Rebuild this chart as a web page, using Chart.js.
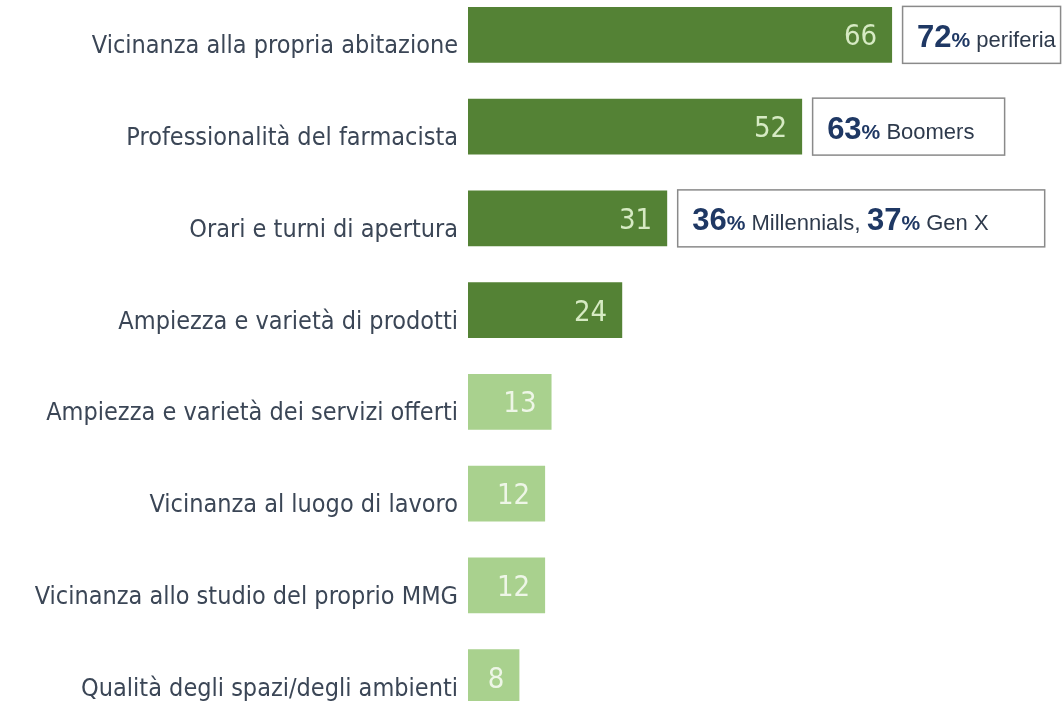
<!DOCTYPE html>
<html>
<head>
<meta charset="utf-8">
<script src="https://cdn.jsdelivr.net/npm/chart.js@4/dist/chart.umd.min.js"></script>
<style>
  html, body { margin: 0; padding: 0; background: #ffffff; overflow: hidden; width: 1063px; height: 701px; }
  #wrap { position: absolute; left: 0; top: -11px; width: 1063px; height: 734px; }
</style>
</head>
<body>
<div id="wrap"><canvas id="c"></canvas></div>
<script>
// ---- data ----
const categories = [
  'Vicinanza alla propria abitazione',
  'Professionalità del farmacista',
  'Orari e turni di apertura',
  'Ampiezza e varietà di prodotti',
  'Ampiezza e varietà dei servizi offerti',
  'Vicinanza al luogo di lavoro',
  'Vicinanza allo studio del proprio MMG',
  'Qualità degli spazi/degli ambienti'
];
const values = [66, 52, 31, 24, 13, 12, 12, 8];
const topGroupSize = 4;               // first four bars highlighted (dark)
const noteRows = [0, 1, 2];
const notePcts = [[72], [63], [36, 37]];
const noteGroups = [['periferia'], ['Boomers'], ['Millennials', 'Gen X']];
const noteBoxWidths = [159, 193, 368];

// ---- styles ----
const NARROW = '"Liberation Sans Narrow", "Arial Narrow", "DejaVu Sans Condensed", "Liberation Sans", sans-serif';
const SANS = '"Liberation Sans", Arial, sans-serif';
const DARK = '#548235';
const LIGHT = '#a9d18e';
const barColors = values.map((v, i) => i < topGroupSize ? DARK : LIGHT);
const valueColors = values.map((v, i) => i < topGroupSize ? '#d6eac3' : '#eef6e7');

const valueLabels = {
  id: 'valueLabels',
  afterDatasetsDraw(chart) {
    const ctx = chart.ctx;
    const meta = chart.getDatasetMeta(0);
    ctx.save();
    ctx.font = '29px ' + NARROW;
    ctx.textAlign = 'right';
    ctx.textBaseline = 'middle';
    meta.data.forEach((bar, i) => {
      ctx.fillStyle = valueColors[i];
      ctx.fillText(String(values[i]), bar.x - 15, bar.y + 3);
    });
    ctx.restore();
  }
};

const noteBoxes = {
  id: 'noteBoxes',
  afterDatasetsDraw(chart) {
    const ctx = chart.ctx;
    const meta = chart.getDatasetMeta(0);
    const xs = chart.scales.x;
    ctx.save();
    noteRows.forEach((row, k) => {
      const bar = meta.data[row];
      const left = xs.getPixelForValue(values[row]) + 10;
      const top = bar.y - bar.height / 2 - 1;
      const h = bar.height + 2;
      ctx.fillStyle = '#ffffff';
      ctx.fillRect(left, top, noteBoxWidths[k], h);
      ctx.strokeStyle = '#8a8a8a';
      ctx.lineWidth = 1.5;
      ctx.strokeRect(left + 0.5, top + 0.5, noteBoxWidths[k] - 1, h - 1);
      let x = left + 15;
      const base = bar.y + 12;
      ctx.textBaseline = 'alphabetic';
      ctx.textAlign = 'left';
      notePcts[k].forEach((p, j) => {
        if (j > 0) {
          ctx.font = '23px ' + SANS;
          ctx.fillStyle = '#2e3a4c';
          ctx.fillText(', ', x, base);
          x += ctx.measureText(', ').width;
        }
        ctx.font = 'bold 31px ' + SANS;
        ctx.fillStyle = '#1f3864';
        ctx.fillText(String(p), x, base);
        x += ctx.measureText(String(p)).width;
        ctx.font = 'bold 21px ' + SANS;
        ctx.fillText('%', x, base);
        x += ctx.measureText('%').width;
        ctx.font = '22px ' + SANS;
        ctx.fillStyle = '#2e3a4c';
        const t = ' ' + noteGroups[k][j];
        ctx.fillText(t, x, base);
        x += ctx.measureText(t).width;
      });
    });
    ctx.restore();
  }
};

new Chart(document.getElementById('c'), {
  type: 'bar',
  data: {
    labels: categories,
    datasets: [{
      data: values,
      backgroundColor: barColors,
      borderWidth: 0,
      categoryPercentage: 1,
      barPercentage: 0.61
    }]
  },
  options: {
    indexAxis: 'y',
    responsive: true,
    maintainAspectRatio: false,
    animation: false,
    layout: { padding: 0 },
    plugins: { legend: { display: false }, tooltip: { enabled: false } },
    scales: {
      x: { display: false, min: 0, max: 92.6 },
      y: {
        grid: { display: false, drawTicks: false },
        border: { display: false },
        afterFit(scale) {
          scale.width = 468;
          scale.paddingTop = 0;
          scale.paddingBottom = 0;
        },
        ticks: {
          padding: 10,
          color: '#3b4656',
          font: { family: NARROW, size: 25, lineHeight: '24px' },
          callback(value, index) { return ['', categories[index]]; }
        }
      }
    }
  },
  plugins: [valueLabels, noteBoxes]
});
</script>
</body>
</html>
